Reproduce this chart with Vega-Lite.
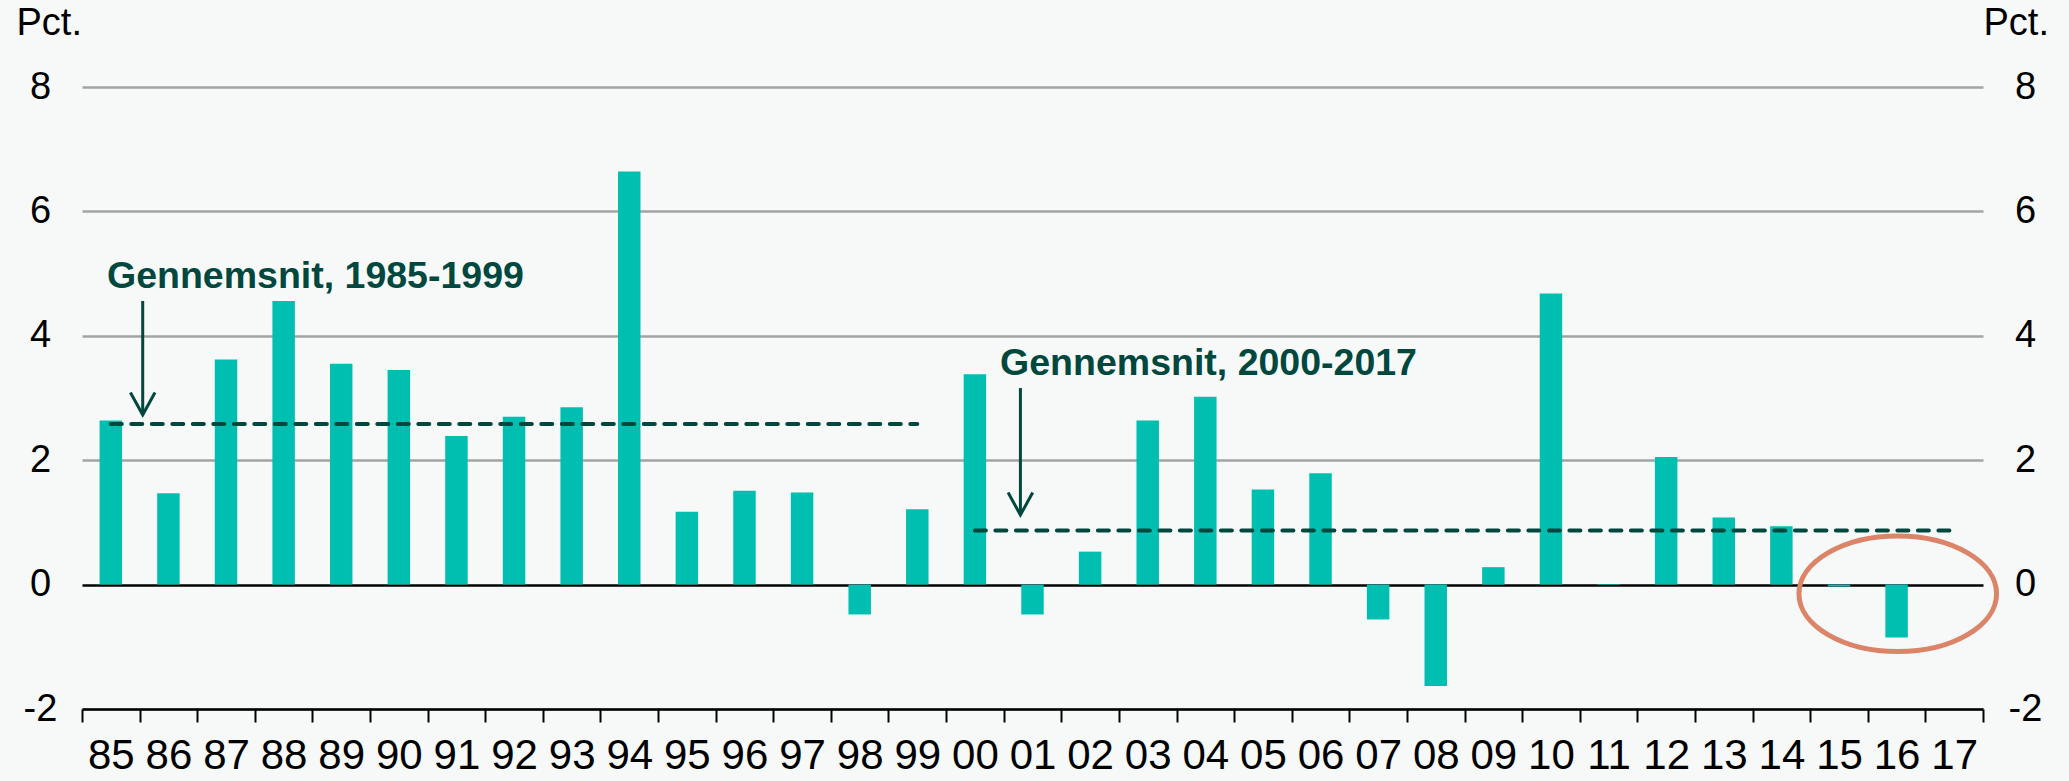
{
  "$schema": "https://vega.github.io/schema/vega-lite/v6.json",
  "width": 1901,
  "height": 622,
  "autosize": {"type": "none"},
  "padding": {"left": 82, "top": 87, "right": 86, "bottom": 72},
  "background": "#f7f9f9",
  "config": {"view": {"stroke": null}, "font": "Liberation Sans"},
  "datasets": {
    "growth": [
      {"yr": "85", "v": 2.64}, {"yr": "86", "v": 1.47}, {"yr": "87", "v": 3.62}, {"yr": "88", "v": 4.56},
      {"yr": "89", "v": 3.55}, {"yr": "90", "v": 3.45}, {"yr": "91", "v": 2.39}, {"yr": "92", "v": 2.70},
      {"yr": "93", "v": 2.85}, {"yr": "94", "v": 6.64}, {"yr": "95", "v": 1.17}, {"yr": "96", "v": 1.51},
      {"yr": "97", "v": 1.48}, {"yr": "98", "v": -0.48}, {"yr": "99", "v": 1.21}, {"yr": "00", "v": 3.38},
      {"yr": "01", "v": -0.48}, {"yr": "02", "v": 0.53}, {"yr": "03", "v": 2.64}, {"yr": "04", "v": 3.02},
      {"yr": "05", "v": 1.53}, {"yr": "06", "v": 1.79}, {"yr": "07", "v": -0.56}, {"yr": "08", "v": -1.63},
      {"yr": "09", "v": 0.28}, {"yr": "10", "v": 4.68}, {"yr": "11", "v": 0.01}, {"yr": "12", "v": 2.05},
      {"yr": "13", "v": 1.08}, {"yr": "14", "v": 0.94}, {"yr": "15", "v": -0.03}, {"yr": "16", "v": -0.85}
    ],
    "averages": [
      {"yr": "85", "yr2": "99", "avg": 2.58},
      {"yr": "00", "yr2": "17", "avg": 0.87}
    ]
  },
  "layer": [
    {
      "data": {"name": "growth"},
      "mark": {"type": "bar", "width": {"band": 0.39}, "color": "#00bfb0"},
      "encoding": {
        "x": {
          "field": "yr", "type": "nominal", "sort": null,
          "scale": {"domain": ["85","86","87","88","89","90","91","92","93","94","95","96","97","98","99","00","01","02","03","04","05","06","07","08","09","10","11","12","13","14","15","16","17"], "paddingInner": 0, "paddingOuter": 0},
          "axis": {
            "title": null, "labelAngle": 0, "labelFontSize": 42, "labelColor": "#000000", "labelPadding": 13,
            "domainColor": "#000000", "domainWidth": 2.5, "tickColor": "#000000", "tickWidth": 2, "tickSize": 13,
            "tickBand": "extent", "grid": false, "labelFont": "Liberation Sans"
          }
        },
        "y": {
          "field": "v", "type": "quantitative",
          "scale": {"domain": [-2, 8], "nice": false, "zero": false},
          "axis": {
            "orient": "left", "values": [-2, 0, 2, 4, 6, 8], "labelExpr": "'' + datum.value", "domain": false, "ticks": false, "tickSize": 0,
            "grid": true, "gridWidth": 2.3,
            "gridColor": {"condition": {"test": "datum.value === 0", "value": "#000000"}, "value": "#a3a3a3"},
            "labelFontSize": 38, "labelColor": "#000000", "labelAlign": "center", "labelPadding": 42, "labelFont": "Liberation Sans",
            "title": "Pct.", "titleAngle": 0, "titleAlign": "left", "titleBaseline": "alphabetic", "titleX": -66, "titleY": -53,
            "titleFontSize": 38, "titleFontWeight": "normal", "titleColor": "#000000", "titleFont": "Liberation Sans"
          }
        }
      }
    },
    {
      "data": {"name": "averages"},
      "mark": {"type": "rule", "color": "#00473e", "strokeWidth": 4, "strokeDash": [11, 9.5], "strokeCap": "round"},
      "encoding": {
        "x": {"field": "yr", "type": "nominal", "axis": null, "bandPosition": 0.5},
        "x2": {"field": "yr2", "bandPosition": 0.5},
        "y": {
          "field": "avg", "type": "quantitative",
          "axis": {
            "orient": "right", "values": [-2, 0, 2, 4, 6, 8], "labelExpr": "'' + datum.value", "domain": false, "ticks": false, "tickSize": 0, "grid": false,
            "labelFontSize": 38, "labelColor": "#000000", "labelAlign": "center", "labelPadding": 42, "labelFont": "Liberation Sans",
            "title": "Pct.", "titleAngle": 0, "titleAlign": "left", "titleBaseline": "alphabetic", "titleX": 0, "titleY": -53,
            "titleFontSize": 38, "titleFontWeight": "normal", "titleColor": "#000000", "titleFont": "Liberation Sans"
          }
        }
      }
    },
    {
      "data": {"values": [{"yr": "86", "top": 4.56, "tip": 2.73}]},
      "mark": {"type": "rule", "color": "#00473e", "strokeWidth": 3},
      "encoding": {
        "x": {"field": "yr", "type": "nominal", "axis": null, "bandPosition": 0.054},
        "y": {"field": "top", "type": "quantitative", "axis": null},
        "y2": {"field": "tip"}
      }
    },
    {
      "data": {"values": [{"yr": "86", "tip": 2.73}]},
      "mark": {"type": "point", "shape": "M-0.55,-1L0,0L0.55,-1", "size": 2000, "filled": false, "stroke": "#00473e", "strokeWidth": 3, "opacity": 1},
      "encoding": {
        "x": {"field": "yr", "type": "nominal", "axis": null, "bandPosition": 0.054},
        "y": {"field": "tip", "type": "quantitative", "axis": null}
      }
    },
    {
      "data": {"values": [{"yr": "01", "top": 3.16, "tip": 1.12}]},
      "mark": {"type": "rule", "color": "#00473e", "strokeWidth": 3},
      "encoding": {
        "x": {"field": "yr", "type": "nominal", "axis": null, "bandPosition": 0.29},
        "y": {"field": "top", "type": "quantitative", "axis": null},
        "y2": {"field": "tip"}
      }
    },
    {
      "data": {"values": [{"yr": "01", "tip": 1.12}]},
      "mark": {"type": "point", "shape": "M-0.55,-1L0,0L0.55,-1", "size": 2000, "filled": false, "stroke": "#00473e", "strokeWidth": 3, "opacity": 1},
      "encoding": {
        "x": {"field": "yr", "type": "nominal", "axis": null, "bandPosition": 0.29},
        "y": {"field": "tip", "type": "quantitative", "axis": null}
      }
    },
    {
      "data": {"values": [{"yr": "85", "y": 4.77, "label": "Gennemsnit, 1985-1999"}]},
      "mark": {"type": "text", "align": "left", "baseline": "alphabetic", "fontSize": 37.5, "fontWeight": "bold", "color": "#00473e", "font": "Liberation Sans"},
      "encoding": {
        "x": {"field": "yr", "type": "nominal", "axis": null, "bandPosition": 0.434},
        "y": {"field": "y", "type": "quantitative", "axis": null},
        "text": {"field": "label"}
      }
    },
    {
      "data": {"values": [{"yr": "00", "y": 3.37, "label": "Gennemsnit, 2000-2017"}]},
      "mark": {"type": "text", "align": "left", "baseline": "alphabetic", "fontSize": 37.5, "fontWeight": "bold", "color": "#00473e", "font": "Liberation Sans"},
      "encoding": {
        "x": {"field": "yr", "type": "nominal", "axis": null, "bandPosition": 0.9375},
        "y": {"field": "y", "type": "quantitative", "axis": null},
        "text": {"field": "label"}
      }
    },
    {
      "data": {"values": [{"yr": "16", "y": -0.148}]},
      "mark": {"type": "point", "shape": "M1,0C1,0.323,0.552,0.585,0,0.585C-0.552,0.585,-1,0.323,-1,0C-1,-0.323,-0.552,-0.585,0,-0.585C0.552,-0.585,1,-0.323,1,0Z", "size": 39046, "filled": false, "stroke": "#dc8468", "strokeWidth": 5, "opacity": 1},
      "encoding": {
        "x": {"field": "yr", "type": "nominal", "axis": null, "bandPosition": 0.52},
        "y": {"field": "y", "type": "quantitative", "axis": null}
      }
    }
  ],
  "resolve": {"axis": {"x": "independent", "y": "independent"}}
}
